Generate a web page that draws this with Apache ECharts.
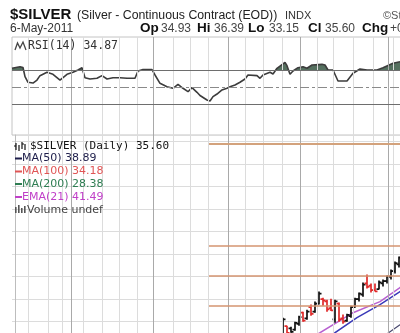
<!DOCTYPE html>
<html><head><meta charset="utf-8">
<script src="https://cdn.jsdelivr.net/npm/echarts/dist/echarts.min.js"></script>
<style>html,body{margin:0;padding:0;background:#fff;overflow:hidden}#c{width:400px;height:333px}</style>
</head><body><div id="c"></div>
<script>
// ---- data (x = weekly bar index) ----
const rsiBar = [-0.75,1.25,2,2.5,3.25,4.5,5.5,6.25,8,9.5,11.25,13,14.5,15.75,16.75,17.5,18.75,20.5,21.75,23,24.5,26.25,28,30,30.75,32,34.25,35,36.25,38,39.5,40.75,42,43.25,44.25,45.5,46.25,48,48.75,49.5,50.5,51,51.75,53,53.75,55,56.25,57.5,58.25,60.5,61.25,62,63.75,64.5,65.5,67.5,68,68.75,69.5,70.75,72,73,74.25,76.75,77.5,78.25,79.5,80.75,83,84.5,86.25,88,90.5,92,94.5,96.25];
const rsiValue = [72.0,73.8,72.9,62.2,55.7,54.8,58.3,63.4,67.3,65.0,58.3,65.0,67.3,70.0,72.7,61.0,59.5,60.3,63.4,59.5,61.0,61.0,60.3,60.3,68.8,70.5,70.5,64.2,54.5,50.5,48.7,53.3,48.7,44.7,49.4,44.0,40.3,35.0,33.8,38.9,42.0,39.7,46.7,48.7,50.5,52.5,55.7,59.5,64.2,63.4,60.3,64.2,67.3,65.3,72.0,79.0,75.0,65.0,68.8,72.7,73.8,72.0,75.8,76.6,75.8,70.0,70.0,57.2,57.2,66.2,71.2,70.0,70.0,72.7,77.8,79.7];
const rsiLevels = [70, 50, 30];

const barIdx   = [67,68,69,70,71,72,73,74,75,76,77,78,79,80,81,82,83,84,85,86,87,88,89,90,91,92,93,94,95,96];
const barOpen  = [14.90,15.60,15.40,15.30,15.80,16.80,16.30,17.30,16.90,17.60,18.00,17.80,17.20,16.20,17.60,16.30,16.10,16.50,17.30,18.00,18.40,19.40,19.20,18.80,18.90,19.40,19.60,20.00,20.50,21.10];
const barHigh  = [16.36,15.64,15.55,16.00,16.54,16.89,17.07,17.52,17.79,18.68,18.14,17.96,18.05,17.96,17.70,16.63,16.71,17.43,18.14,18.59,19.48,20.20,19.39,19.39,19.66,19.75,20.11,20.64,21.36,21.80];
const barLow   = [14.75,14.93,15.02,15.20,15.64,16.00,16.18,16.54,16.80,17.52,17.43,16.89,16.95,15.91,16.00,15.82,16.00,16.36,17.25,17.79,18.23,18.95,18.59,18.68,18.86,19.13,19.39,19.75,20.29,20.82];
const barClose = [16.20,15.00,15.10,15.90,16.40,16.10,16.90,16.70,17.60,18.50,17.90,17.10,17.00,17.80,16.20,16.00,16.60,17.30,18.00,18.50,19.30,19.10,18.80,18.70,19.50,19.60,20.00,20.50,21.20,21.70];

const emaBar   = [70, 76.25, 84.5, 91.25, 96.25, 97.25];
const emaValue = [13.70, 15.02, 16.80, 17.79, 19.04, 19.25];
const ma50Bar   = [75, 80, 85.5, 91.25, 96.25, 97.25];
const ma50Value = [14.10, 15.02, 16.36, 17.52, 18.68, 18.90];
const trendBar   = [91, 93.75, 96.25, 97.25];
const trendValue = [14.40, 15.11, 15.73, 15.98];

const levelStart = 48.5;
const priceLevels = [31.80, 22.79, 20.11, 17.38];

const minorLines = [3.25, 8.25, 11.75, 17, 21.75, 26, 30.5, 39.5, 43.75, 48.25, 57.5, 62, 66.75, 75.5, 79.5, 84.5, 89.5, 94.5];
const majorLines = [14, 34.5, 53.25, 71.25, 93.25];

// ---- chart ----
const X_MIN = -0.75, X_MAX = 97.25;
const chart = echarts.init(document.getElementById('c'), null, {renderer: 'canvas', width: 400, height: 333});

const rsiData = rsiBar.map((b, i) => [b, rsiValue[i]]);
const ohlc = barIdx.map((b, i) => [b, barOpen[i], barHigh[i], barLow[i], barClose[i], i > 0 ? barClose[i - 1] : barOpen[i]]);
const pairs = (xs, ys) => xs.map((x, i) => [x, ys[i]]);

function vLines() {
  return minorLines.map(v => ({xAxis: v, lineStyle: {color: '#dcdcdc', width: 1, type: 'solid'}}))
    .concat(majorLines.map(v => ({xAxis: v, lineStyle: {color: '#a9a9a9', width: 1, type: 'solid'}})));
}
const baseMark = {silent: true, symbol: ['none', 'none'], label: {show: false}, animation: false};

function txt(x, y, s, font, fill) {
  return {type: 'text', x: x, y: y, silent: true, z: 100,
    style: {text: s, font: font, fill: fill, verticalAlign: 'middle', align: 'left'}};
}
function seg(x1, y1, x2, y2, color, w) {
  return {type: 'line', silent: true, z: 100, shape: {x1, y1, x2, y2}, style: {stroke: color, lineWidth: w || 1}};
}
const LEG = '11px "DejaVu Sans"';
const graphics = [
  txt(10, 15, '$SILVER', 'bold 15px "Liberation Sans"', '#111'),
  txt(77, 16, '(Silver - Continuous Contract (EOD))', '12.3px "Liberation Sans"', '#222'),
  txt(285, 16, 'INDX', '11px "Liberation Sans"', '#333'),
  txt(383, 16, '©StockCharts.com', '11px "Liberation Sans"', '#555'),
  txt(10, 29, '6-May-2011', '12px "Liberation Sans"', '#333'),
  txt(140, 28, 'Op', 'bold 13.5px "Liberation Sans"', '#111'),
  txt(161, 29, '34.93', '12px "Liberation Sans"', '#444'),
  txt(197, 28, 'Hi', 'bold 13.5px "Liberation Sans"', '#111'),
  txt(214, 29, '36.39', '12px "Liberation Sans"', '#444'),
  txt(248, 28, 'Lo', 'bold 13.5px "Liberation Sans"', '#111'),
  txt(269, 29, '33.15', '12px "Liberation Sans"', '#444'),
  txt(308, 28, 'Cl', 'bold 13.5px "Liberation Sans"', '#111'),
  txt(325, 29, '35.60', '12px "Liberation Sans"', '#444'),
  txt(362, 28, 'Chg', 'bold 13.5px "Liberation Sans"', '#111'),
  txt(390, 29, '+0.72', '12px "Liberation Sans"', '#444'),
  // RSI label
  {type: 'polyline', silent: true, z: 100, shape: {points: [[15, 50], [17.5, 43], [20, 48], [23, 42], [26, 50]]}, style: {stroke: '#444', fill: null, lineWidth: 1.3}},
  txt(28, 46, 'RSI(14) 34.87', '11.5px "DejaVu Sans Mono"', '#333'),
  // price legend
  seg(16, 143, 16, 150, '#111', 1.2), seg(19, 145, 19, 151, '#111', 1.2), seg(22, 142, 22, 149, '#111', 1.2), seg(25, 144, 25, 150, '#111', 1.2),
  seg(14, 146, 16, 146, '#111', 1), seg(22, 144, 24, 144, '#111', 1),
  txt(30, 146.5, '$SILVER (Daily) 35.60', '11px "DejaVu Sans Mono"', '#111'),
  seg(15, 158.5, 22, 158.5, '#1d1d4a', 2), txt(22, 158.5, 'MA(50) 38.89', LEG, '#1d1d4a'),
  seg(15, 171.5, 22, 171.5, '#e05555', 2), txt(22, 171.5, 'MA(100) 34.18', LEG, '#e05555'),
  seg(15, 184, 22, 184, '#2e7d52', 2), txt(22, 184, 'MA(200) 28.38', LEG, '#2e7d52'),
  seg(15, 197, 22, 197, '#c040c8', 2), txt(22, 197, 'EMA(21) 41.49', LEG, '#c040c8'),
  {type: 'rect', silent: true, z: 100, shape: {x: 15, y: 207, width: 1.6, height: 6}, style: {fill: '#555'}},
  {type: 'rect', silent: true, z: 100, shape: {x: 18, y: 205, width: 1.6, height: 8}, style: {fill: '#555'}},
  {type: 'rect', silent: true, z: 100, shape: {x: 21, y: 208, width: 1.6, height: 5}, style: {fill: '#555'}},
  {type: 'rect', silent: true, z: 100, shape: {x: 24, y: 206, width: 1.6, height: 7}, style: {fill: '#555'}},
  txt(27, 210, 'Volume undef', LEG, '#444')
];

const option = {
  animation: false,
  backgroundColor: '#fff',
  grid: [
    {left: 12, top: 37, width: 392, height: 98, show: true, borderColor: '#c4c4c4', borderWidth: 1, backgroundColor: 'transparent', outerBoundsMode: 'none', containLabel: false},
    {left: 12, top: 135, width: 392, height: 231.7, show: false, outerBoundsMode: 'none', containLabel: false}
  ],
  xAxis: [
    {gridIndex: 0, type: 'value', min: X_MIN, max: X_MAX, show: false},
    {gridIndex: 1, type: 'value', min: X_MIN, max: X_MAX, show: false}
  ],
  yAxis: [
    {gridIndex: 0, type: 'value', min: -5.8, max: 108.48, axisLine: {show: false}, axisTick: {show: false}, axisLabel: {show: false}, splitLine: {show: false}},
    {gridIndex: 1, type: 'value', min: 12, max: 32.6, interval: 2, axisLine: {show: true, lineStyle: {color: '#bdbdbd'}}, axisTick: {show: false}, axisLabel: {show: false}, splitLine: {show: true, lineStyle: {color: '#dcdcdc'}}}
  ],
  visualMap: [{
    type: 'piecewise', show: false, seriesIndex: 1, dimension: 1,
    pieces: [{gt: 70, lte: 200, color: '#55705f'}, {gte: -100, lte: 70, color: 'rgba(255,255,255,0)'}]
  }],
  series: [
    { // RSI grid lines holder
      type: 'line', xAxisIndex: 0, yAxisIndex: 0, z: 1, data: [[rsiBar[0], rsiValue[0]]], symbol: 'none', lineStyle: {opacity: 0},
      markLine: Object.assign({}, baseMark, {data: vLines().concat([
        {yAxis: rsiLevels[0], lineStyle: {color: '#6e6e6e', width: 1, type: 'solid'}},
        {yAxis: rsiLevels[1], lineStyle: {color: '#8a8a8a', width: 1, type: [9, 3, 3, 3]}},
        {yAxis: rsiLevels[2], lineStyle: {color: '#6e6e6e', width: 1, type: 'solid'}}
      ])})
    },
    { // RSI overbought fill
      type: 'line', xAxisIndex: 0, yAxisIndex: 0, z: 2, data: rsiData, symbol: 'none', silent: true,
      lineStyle: {width: 0, opacity: 0}, areaStyle: {origin: 70, opacity: 1}
    },
    { // RSI line
      type: 'line', xAxisIndex: 0, yAxisIndex: 0, z: 3, data: rsiData, symbol: 'none', silent: true,
      lineStyle: {color: '#3c3c3c', width: 1.6}
    },
    { // price grid lines holder
      type: 'line', xAxisIndex: 1, yAxisIndex: 1, z: 1, data: [[barIdx[0], barClose[0]]], symbol: 'none', lineStyle: {opacity: 0},
      markLine: Object.assign({}, baseMark, {data: vLines()})
    },
    { // horizontal level lines
      type: 'line', xAxisIndex: 1, yAxisIndex: 1, z: 2, data: [[barIdx[0], barClose[0]]], symbol: 'none', lineStyle: {opacity: 0},
      markLine: Object.assign({}, baseMark, {data: priceLevels.map((p, i) => [
        {coord: [levelStart, p], lineStyle: {color: i === 0 ? '#d3a27c' : '#d49470', width: i === 0 ? 2 : 1.5, type: 'solid'}},
        {coord: [X_MAX, p]}
      ])})
    },
    {type: 'line', xAxisIndex: 1, yAxisIndex: 1, z: 3, data: pairs(emaBar, emaValue), symbol: 'none', silent: true, lineStyle: {color: '#b860d0', width: 1.5}},
    {type: 'line', xAxisIndex: 1, yAxisIndex: 1, z: 3, data: pairs(ma50Bar, ma50Value), symbol: 'none', silent: true, lineStyle: {color: '#3a3ab8', width: 1.5}},
    {type: 'line', xAxisIndex: 1, yAxisIndex: 1, z: 3, data: pairs(trendBar, trendValue), symbol: 'none', silent: true, lineStyle: {color: '#4a4a70', width: 1.2}},
    { // OHLC bars
      type: 'custom', xAxisIndex: 1, yAxisIndex: 1, z: 4, clip: true, silent: true, data: ohlc,
      renderItem: function (params, api) {
        const x = api.value(0), o = api.value(1), h = api.value(2), l = api.value(3), c = api.value(4), prev = api.value(5);
        const pH = api.coord([x, h]), pL = api.coord([x, l]), pO = api.coord([x, o]), pC = api.coord([x, c]);
        const color = c >= prev ? '#111' : '#e02a2a';
        const st = {stroke: color, lineWidth: 1.7};
        return {type: 'group', children: [
          {type: 'line', shape: {x1: pH[0], y1: pH[1], x2: pL[0], y2: pL[1]}, style: st},
          {type: 'line', shape: {x1: pO[0] - 2.5, y1: pO[1], x2: pO[0], y2: pO[1]}, style: st},
          {type: 'line', shape: {x1: pC[0], y1: pC[1], x2: pC[0] + 2.5, y2: pC[1]}, style: st}
        ]};
      }
    }
  ],
  graphic: graphics
};
chart.setOption(option);
</script>
</body></html>
